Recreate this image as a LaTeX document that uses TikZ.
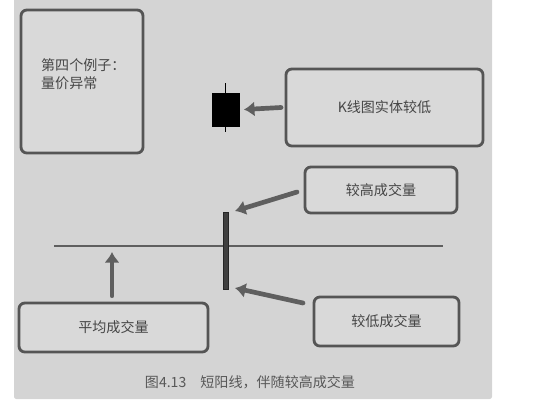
\documentclass[tikz,border=0pt]{standalone}
\usepackage{fontspec}
\setmainfont{Noto Sans CJK SC}
\usetikzlibrary{arrows.meta}

\definecolor{panelgray}{RGB}{212,212,212}
\definecolor{boxfill}{RGB}{217,217,217}
\definecolor{boxline}{RGB}{85,85,85}
\definecolor{arrowgray}{RGB}{95,95,95}
\definecolor{textgray}{RGB}{70,70,70}

\begin{document}
\begin{tikzpicture}[x=0.03cm, y=-0.03cm, font=\fontsize{12}{15.5}\selectfont, text=textgray,
  box/.style={draw=boxline, fill=boxfill, line width=2.4pt, rounded corners=5pt, align=center, inner sep=0pt},
  arr/.style={draw=arrowgray, line width=4pt, line cap=round, -{Latex[length=9pt, width=13pt]}},
  jn/.style={inner sep=0pt, minimum size=0pt}]

\useasboundingbox (0,0) rectangle (539,409);
\fill[panelgray, rounded corners=2pt] (14,-5) rectangle (492,399);

% ---- boxes ---------------------------------------------------------------------
\node[box, minimum width=3.66cm, minimum height=4.29cm] (ex) at (82,81.5) {};
\node[anchor=west, align=left] (extext) at (37,74) {第四个例子：\\量价异常};
\node[box, minimum width=5.91cm, minimum height=2.31cm] (kbox) at (384.5,107.5) {K线图实体较低};
\node[box, minimum width=4.56cm, minimum height=1.38cm] (high) at (381,190) {较高成交量};
\node[box, minimum width=5.67cm, minimum height=1.47cm] (avg) at (113.5,327.5) {平均成交量};
\node[box, minimum width=4.35cm, minimum height=1.47cm] (low) at (386.5,321.5) {较低成交量};

% ---- the candle and the short bar ----------------------------------------------
\coordinate (wtop) at (225.5,83);
\coordinate (wbot) at (225.5,132);
\draw[line width=1.4pt, black] (wtop) -- (wbot);
\node[draw=black, fill=black, inner sep=0pt, minimum width=0.81cm, minimum height=0.99cm] (candle) at (225.5,109.5) {};

\coordinate (hl1) at (54,246);
\coordinate (hl2) at (443,246);
\draw[line width=1pt, arrowgray] (hl1) -- (hl2);
\node[draw=black!85, fill=black!75, line width=0.6pt, inner sep=0pt, minimum width=0.15cm, minimum height=2.31cm] (bar) at (226,250.5) {};

% ---- arrows --------------------------------------------------------------------
\coordinate (hightail) at (297,192);
\coordinate (hightip) at (235,211);
\coordinate (lowtail) at (303,303);
\coordinate (lowtip) at (235,288);
\coordinate (avgtip) at (112,252);
\draw[arr] ([xshift=-3pt]kbox.west) -- ([xshift=4pt]candle.east);
\draw[arr] (hightail) -- (hightip);
\draw[arr] (lowtail) -- (lowtip);
\draw[arr] ([yshift=5pt]avg.north -| avgtip) -- (avgtip);

% ---- caption -------------------------------------------------------------------
\node[text=textgray!90] (cap) at (250,382) {图4.13\quad 短阳线，伴随较高成交量};

\end{tikzpicture}
\end{document}
